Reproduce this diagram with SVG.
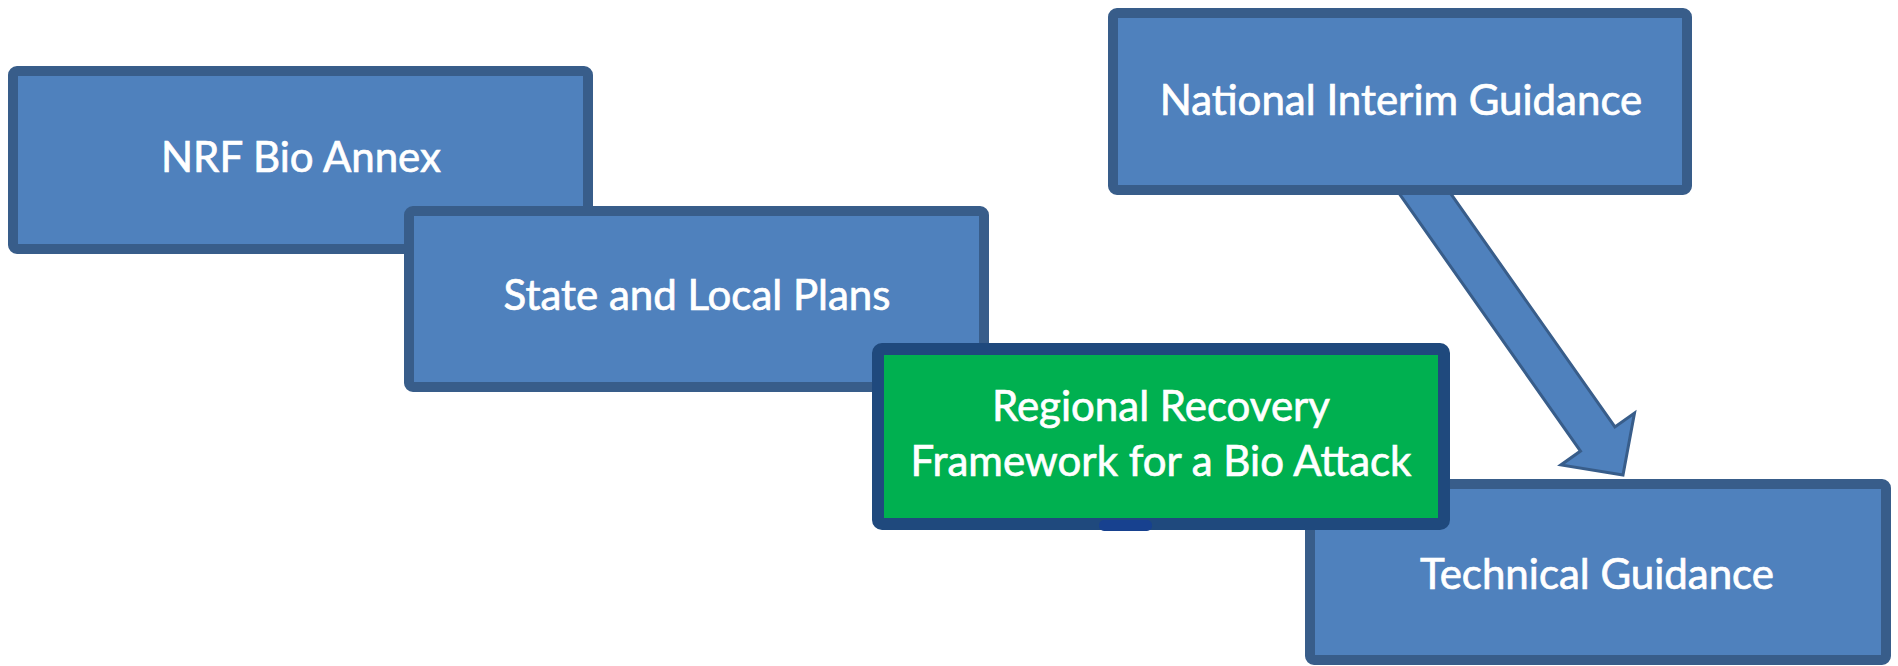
<svg xmlns="http://www.w3.org/2000/svg" width="1898" height="666" viewBox="0 0 1898 666">
  <style>
    .box { fill: #4f81bd; stroke: #385d8a; stroke-width: 10; }
    .green { fill: #00b050; stroke: #1f497d; stroke-width: 12; }
    .lbl { font-family: Lato, "Liberation Sans", sans-serif; font-size: 42px; fill: #ffffff; stroke: #ffffff; stroke-width: 0.7; text-anchor: middle; }
    .arrow { fill: #4f81bd; stroke: #385d8a; stroke-width: 3; stroke-linejoin: miter; }
  </style>
  <rect width="1898" height="666" fill="#ffffff"/>
  <g id="nrf-bio-annex">
    <rect class="box" x="13" y="71" width="575" height="178" rx="4"/>
    <text class="lbl" x="301" y="172">NRF Bio Annex</text>
  </g>
  <g id="state-local-plans">
    <rect class="box" x="409" y="211" width="575" height="176" rx="4"/>
    <text class="lbl" x="697" y="310">State and Local Plans</text>
  </g>
  <g id="technical-guidance">
    <rect class="box" x="1310" y="484" width="576" height="176" rx="4"/>
    <text class="lbl" x="1597" y="589">Technical Guidance</text>
  </g>
  <g id="connectors">
    <polygon class="arrow" points="1394.7,187.1 1580.5,451.1 1560.9,464.9 1623,475 1634.5,413.1 1614.9,426.9 1429.1,162.9"/>
  </g>
  <g id="national-interim-guidance">
    <rect class="box" x="1113" y="13" width="574" height="177" rx="4"/>
    <text class="lbl" x="1401" y="115">National Interim Guidance</text>
  </g>
  <g id="regional-recovery-framework">
    <rect class="green" x="878" y="349" width="566" height="175" rx="4"/>
    <rect x="1099" y="520" width="53" height="11" rx="5" fill="#17418f"/>
    <text class="lbl" x="1161" y="421">Regional Recovery</text>
    <text class="lbl" x="1161" y="476">Framework for a Bio Attack</text>
  </g>
</svg>
